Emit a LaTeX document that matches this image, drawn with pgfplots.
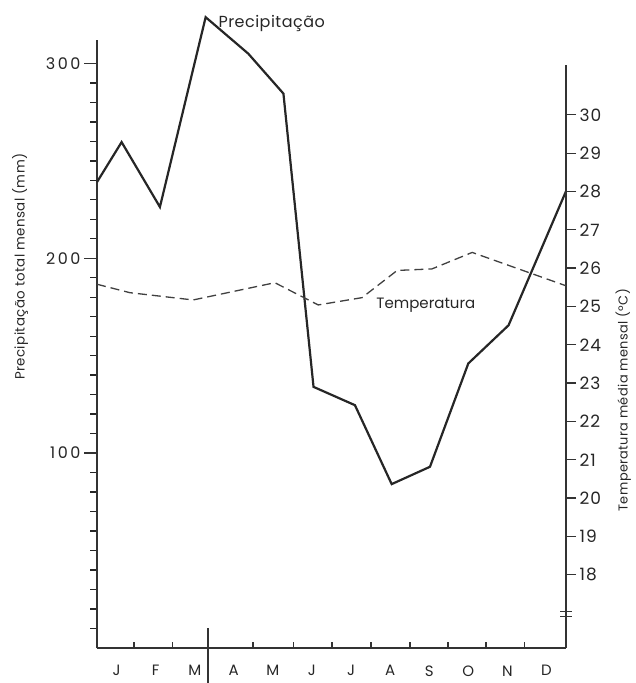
\documentclass[border=0pt]{standalone}
\usepackage{fontspec}
\setmainfont{Poppins}
\newfontfamily\numL{Poppins}[LetterSpace=16]
\newfontfamily\numR{Poppins}[LetterSpace=7]
\newfontfamily\labf{Poppins}[LetterSpace=3]
\usepackage{pgfplots}
\pgfplotsset{compat=1.18}
\begin{document}
\begin{tikzpicture}
\useasboundingbox (0,0) rectangle (635pt,683pt);
\pgfplotsset{
 base/.style={at={(97pt,35pt)}, anchor=south west, scale only axis, width=469pt,
   xmin=0, xmax=12, clip=false,
   /pgf/number format/assume math mode=true,
   tick style={line width=1.3pt, color=black!80},
   axis line style={line width=1.5pt, color=black!80},
   ticklabel style={color=black!85},
 }
}
% Minor ticks of the precipitation axis (every 10 mm)
\begin{axis}[base, height=608pt, ymin=0, ymax=312,
  axis x line=none, axis y line*=left,
  ytick={10,20,30,40,50,60,70,80,90,110,120,130,140,150,160,170,180,190,210,220,230,240,250,260,270,280,290},
  yticklabels={}, tick align=outside, major tick length=7pt,
  tick style={line width=1.4pt, color=black!85}]
\end{axis}
% Precipitation
\begin{axis}[base, height=608pt, ymin=0, ymax=312,
  axis x line=none, axis y line*=left,
  ytick={100,200,300},
  yticklabel style={font=\numL\fontsize{16}{16}\selectfont},
  tick align=outside, major tick length=13pt,
  ylabel={Precipitação total mensal (mm)},
  every axis y label/.style={at={(axis description cs:-0.164,0.627)}, rotate=90, anchor=center,
     font=\labf\fontsize{13.4}{13.4}\selectfont, color=black!85}]
\addplot[line width=2.2pt, color=black!85] coordinates {
(0,239.1) (0.63,259.6) (1.61,226.3) (2.78,323.7) (3.87,305.0) (4.77,284.5)
(5.54,134.0) (6.60,124.6) (7.54,84.1) (8.52,93.0) (9.50,146.0) (10.53,165.6) (12,234.4)};
\node[anchor=base west, font=\labf\fontsize{16}{16}\selectfont, color=black!85] at (axis cs:3.02,318.5) {Precipitação};
\end{axis}
% Month axis
\begin{axis}[base, height=608pt, ymin=0, ymax=1,
  axis y line=none, axis x line*=bottom,
  xtick={0.5,1.5,...,11.5}, xticklabels={J,F,M,A,M,J,J,A,S,O,N,D},
  major tick length=0pt,
  minor xtick={0.95,1.94,2.84,3.99,5.02,6.01,7.01,8.01,8.98,9.95,10.93},
  tick align=inside, minor tick length=6pt,
  xticklabel style={yshift=-14pt, font=\fontsize{15}{15}\selectfont}]
\draw[line width=1.2pt, black!80] ([yshift=20pt]axis cs:2.84,0) -- ([yshift=-35pt]axis cs:2.84,0);
\end{axis}
% Temperature
\begin{axis}[base, height=583pt, ymin=16.09, ymax=31.30,
  axis x line=none, axis y line*=right,
  ytick={18,19,...,30},
  yticklabel style={font=\numR\fontsize{17}{17}\selectfont},
  tick align=outside, major tick length=10pt,
  ylabel={Temperatura média mensal (ºC)},
  every axis y label/.style={at={(axis description cs:1.122,0.425)}, rotate=90, anchor=center,
     font=\labf\fontsize{12.9}{12.9}\selectfont, color=black!85}]
\addplot[line width=1.3pt, color=black!75, dash pattern=on 9pt off 5pt] coordinates {
(0,25.58) (0.84,25.36) (2.46,25.17) (4.55,25.62) (5.66,25.04) (6.78,25.23)
(7.68,25.94) (8.57,25.98) (9.60,26.41) (12,25.54)};
\node[anchor=base west, font=\fontsize{15}{15}\selectfont, color=black!85] at (axis cs:7.06,24.94) {Temperatura};
\draw[line width=1.2pt, black!80] ([xshift=-6pt,yshift=2.5pt]axis cs:12,16.97) -- ([xshift=6pt,yshift=2.5pt]axis cs:12,16.97);
\draw[line width=1.2pt, black!80] ([xshift=-6pt,yshift=-2.5pt]axis cs:12,16.97) -- ([xshift=6pt,yshift=-2.5pt]axis cs:12,16.97);
\end{axis}
\end{tikzpicture}
\end{document}
